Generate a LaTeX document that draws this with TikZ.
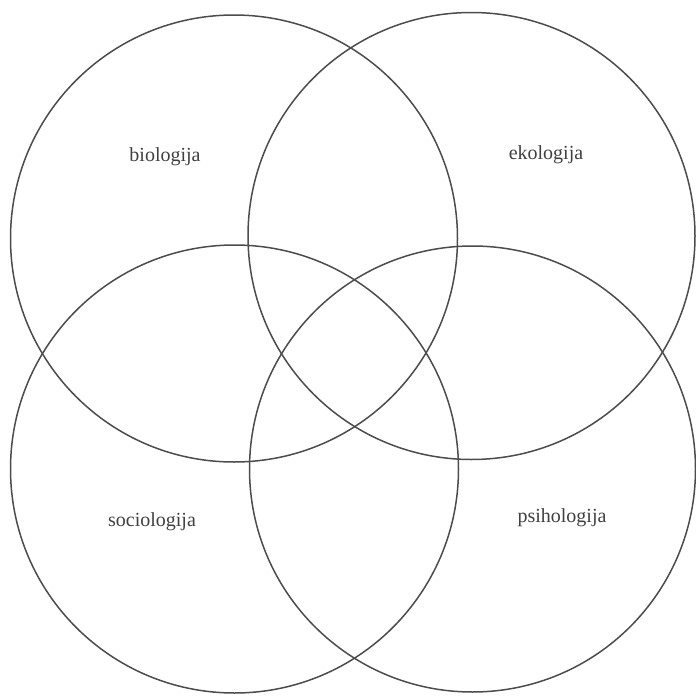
\documentclass[tikz,border=0pt]{standalone}
\usepackage{fontspec}
\setmainfont{Liberation Serif}
\usepackage{xcolor}

\begin{document}
\begin{tikzpicture}[x=1pt, y=-1pt]
  \useasboundingbox (0,0) rectangle (696,696);
  \tikzset{ring/.style={draw=black!70, line width=1.5pt},
           field/.style={text=black!75, font=\fontsize{20}{24}\selectfont}}
  % four overlapping circles
  \draw[ring] (234,238.5) circle (223.5);
  \draw[ring] (471.5,236) circle (223.5);
  \draw[ring] (234.5,469) circle (224);
  \draw[ring] (472.5,469) circle (223);
  % labels
  \node[field] (bio) at (165,157) {biologija};
  \node[field] (eko) at (546,155) {ekologija};
  \node[field] (soc) at (152,522) {sociologija};
  \node[field] (psi) at (562,518) {psihologija};
\end{tikzpicture}
\end{document}
